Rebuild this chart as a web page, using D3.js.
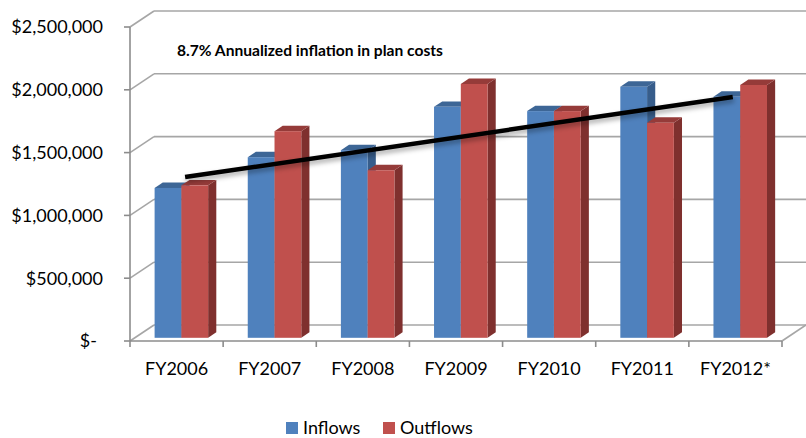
<!DOCTYPE html>
<html lang="en">
<head>
<meta charset="UTF-8">
<title>Inflows vs Outflows</title>
<script src="https://d3js.org/d3.v7.min.js"></script>
<style>
    body { margin: 0; background: #ffffff; }
    svg { display: block; font-family: Lato, "Open Sans", sans-serif; }
    .grid { stroke: #a6a6a6; stroke-width: 1.6; fill: none; }
    .axis { stroke: #8c8c8c; stroke-width: 1.6; fill: none; }
    .lbl { font-size: 18px; fill: #000; }
</style>
</head>
<body>
<svg id="chart" width="806" height="438"></svg>
<script>
    // data
    const categories = ["FY2006", "FY2007", "FY2008", "FY2009", "FY2010", "FY2011", "FY2012*"];
    const seriesNames = ["Inflows", "Outflows"];
    const inflows  = [1193000, 1438000, 1494000, 1839000, 1805000, 1999000, 1919000];
    const outflows = [1214000, 1645000, 1334000, 2021000, 1805000, 1712000, 2013000];
    const yTicks = [0, 500000, 1000000, 1500000, 2000000, 2500000];
    const yTickLabels = ["$-", "$500,000", "$1,000,000", "$1,500,000", "$2,000,000", "$2,500,000"];
    // trend line: position in category units, value
    const trendPos = [0.04, 5.92];
    const trendVals = [1280000, 1917000];
    const note = "8.7% Annualized inflation in plan costs";

    const colors = {
        Inflows:  { face: "#4f81bd", top: "#3d6696", side: "#375d8b" },
        Outflows: { face: "#c0504d", top: "#953b39", side: "#7f302e" }
    };

    const svg = d3.select("#chart");

    // front plane
    const plotLeft = 130, plotRight = 782, plotBottom = 341, plotTop = 27;
    // depth of the 3D box
    const depthX = 24, depthY = -16;
    const barDepth = 0.2;      // bars front face depth
    const barThick = 0.34;     // bars depth thickness

    const y = d3.scaleLinear().domain([0, 2500000]).range([plotBottom, plotTop]);
    const x0 = d3.scaleBand().domain(categories).range([plotLeft, plotRight]);
    const x1 = d3.scaleBand().domain(seriesNames).range([0, x0.bandwidth()]).paddingOuter(0.74);
    const xi = d3.scaleLinear().domain([0, categories.length]).range([plotLeft, plotRight]);

    const gGrid = svg.append("g");

    // back wall gridlines + side wall diagonals
    yTicks.forEach(v => {
        gGrid.append("line").attr("class", "grid")
            .attr("x1", plotLeft + depthX).attr("x2", 806 + 2)
            .attr("y1", y(v) + depthY).attr("y2", y(v) + depthY);
        gGrid.append("line").attr("class", "grid")
            .attr("x1", plotLeft).attr("x2", plotLeft + depthX)
            .attr("y1", y(v)).attr("y2", y(v) + depthY);
    });
    // floor right edge
    gGrid.append("line").attr("class", "grid")
        .attr("x1", plotRight).attr("x2", plotRight + depthX)
        .attr("y1", plotBottom).attr("y2", plotBottom + depthY);

    // axes
    gGrid.append("line").attr("class", "axis")
        .attr("x1", plotLeft).attr("x2", plotLeft).attr("y1", plotTop).attr("y2", plotBottom);
    gGrid.append("line").attr("class", "axis")
        .attr("x1", plotLeft).attr("x2", plotRight).attr("y1", plotBottom).attr("y2", plotBottom);
    yTicks.forEach(v => {
        gGrid.append("line").attr("class", "axis")
            .attr("x1", plotLeft - 6).attr("x2", plotLeft).attr("y1", y(v)).attr("y2", y(v));
    });
    d3.range(categories.length + 1).forEach(i => {
        gGrid.append("line").attr("class", "axis")
            .attr("x1", xi(i)).attr("x2", xi(i)).attr("y1", plotBottom).attr("y2", plotBottom + 6);
    });

    // bars
    const bars = [];
    categories.forEach((c, i) => {
        bars.push({ cat: c, s: "Inflows", v: inflows[i] });
        bars.push({ cat: c, s: "Outflows", v: outflows[i] });
    });

    const ox = depthX * barDepth, oy = depthY * barDepth;
    const tx = depthX * barThick, ty = depthY * barThick;
    const w = x1.bandwidth();

    const gBars = svg.append("g");
    bars.forEach(d => {
        const bx = x0(d.cat) + x1(d.s) + ox;
        const yt = y(d.v) + oy;
        const yb = y(0) + oy;
        const col = colors[d.s];
        const g = gBars.append("g");
        g.append("polygon")
            .attr("points", [[bx + w, yt], [bx + w + tx, yt + ty], [bx + w + tx, yb + ty], [bx + w, yb]].join(" "))
            .attr("fill", col.side);
        g.append("polygon")
            .attr("points", [[bx, yt], [bx + tx, yt + ty], [bx + w + tx, yt + ty], [bx + w, yt]].join(" "))
            .attr("fill", col.top);
        g.append("rect")
            .attr("x", bx).attr("y", yt).attr("width", w).attr("height", yb - yt)
            .attr("fill", col.face);
    });

    // trend line with soft shadow
    const defs = svg.append("defs");
    const f = defs.append("filter").attr("id", "shadow")
        .attr("x", "-10%").attr("y", "-100%").attr("width", "120%").attr("height", "400%");
    f.append("feDropShadow").attr("dx", 1).attr("dy", 3).attr("stdDeviation", 2.5)
        .attr("flood-color", "#000").attr("flood-opacity", 0.35);

    const trendPts = trendPos.map((p, i) => [xi(p + 0.5) + ox, y(trendVals[i]) + oy]);
    svg.append("path")
        .attr("d", d3.line()(trendPts))
        .attr("stroke", "#000").attr("stroke-width", 4.5).attr("fill", "none")
        .attr("filter", "url(#shadow)");

    // y labels
    yTicks.forEach((v, i) => {
        svg.append("text").attr("class", "lbl")
            .attr("x", v === 0 ? 97 : 103).attr("y", y(v))
            .attr("dy", "0.36em").attr("text-anchor", "end")
            .text(yTickLabels[i]);
    });

    // x labels
    categories.forEach(c => {
        svg.append("text").attr("class", "lbl")
            .attr("x", x0(c) + x0.bandwidth() / 2).attr("y", 369)
            .attr("dy", "0.36em").attr("text-anchor", "middle")
            .text(c);
    });

    // note
    svg.append("text")
        .attr("x", 177).attr("y", 50).attr("dy", "0.36em")
        .attr("font-size", 15.6).attr("font-weight", "bold")
        .text(note);

    // legend
    const legendX = [286, 383];
    seriesNames.forEach((s, i) => {
        svg.append("rect").attr("x", legendX[i]).attr("y", 422)
            .attr("width", 12).attr("height", 12).attr("fill", colors[s].face);
        svg.append("text").attr("class", "lbl")
            .attr("x", legendX[i] + 17).attr("y", 428).attr("dy", "0.36em")
            .text(s);
    });
</script>
</body>
</html>
